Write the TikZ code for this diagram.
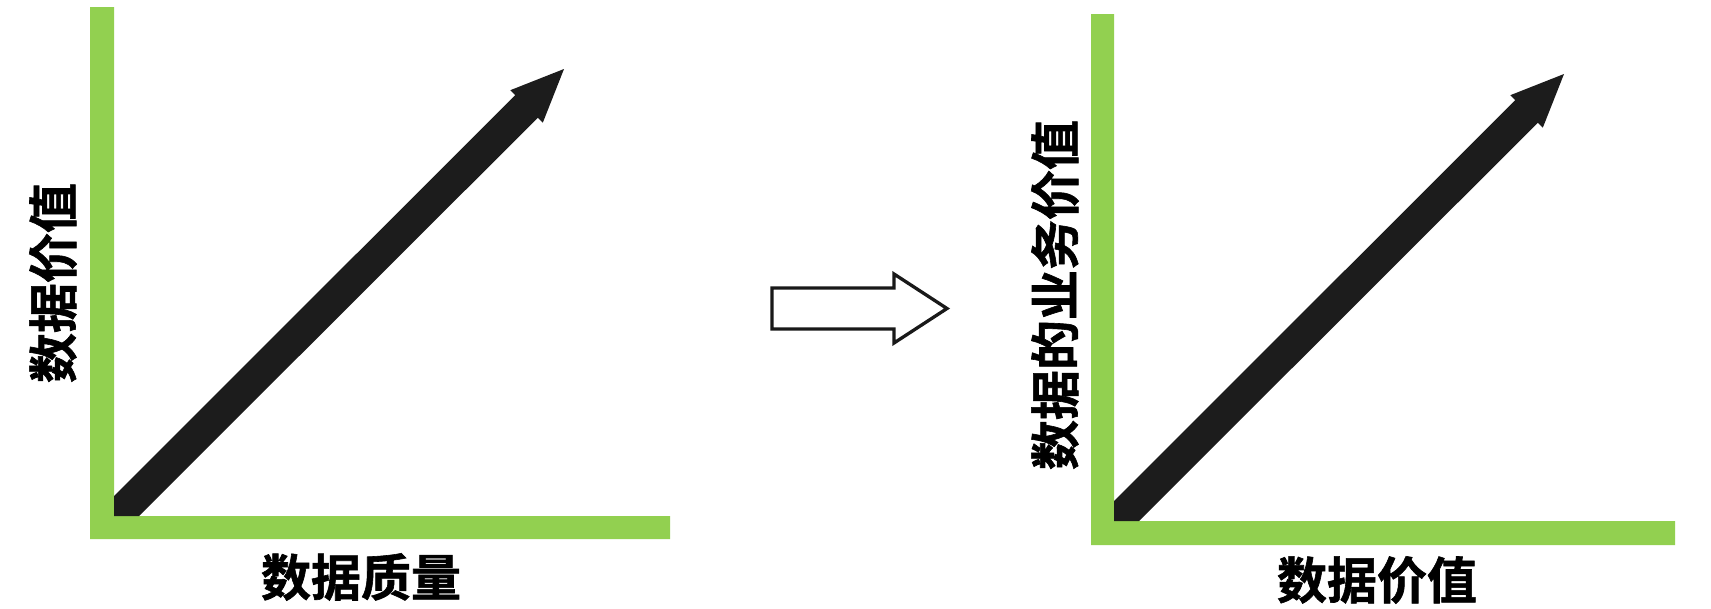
\documentclass[tikz,border=0pt]{standalone}
\usepackage{fontspec}
\newfontfamily\cjkbold[FakeBold=1.2]{Noto Sans CJK SC Bold}
\definecolor{axisgreen}{HTML}{92D050}
\definecolor{arrowblack}{HTML}{1C1C1C}
\tikzset{
  axisbar/.style={fill=axisgreen, draw=none},
  bigarrow/.style={fill=arrowblack, draw=none},
  hollowarrow/.style={draw=black!90, line width=3.3pt, fill=white, line join=miter},
  lab/.style={font=\cjkbold\fontsize{50}{50}\selectfont, inner sep=0pt, text=black}
}
\begin{document}
\begin{tikzpicture}[x=1pt, y=-1pt]
\useasboundingbox (0,0) rectangle (1711,608);
\fill[white] (0,0) rectangle (1711,608);

% left chart
\fill[axisbar] (90,7) -- (114,7) -- (114,516) -- (670,516) -- (670,539) -- (90,539) -- cycle;
\fill[bigarrow] (114,496) -- (515.2,95.2) -- (510.3,90.2) -- (564,69) -- (542.8,122.7) -- (537.8,117.8) -- (139,516) -- (114,516) -- cycle;
\node[lab, rotate=90] (ly) at (53,283) {数据价值};
\node[lab] (lx) at (361,577) {数据质量};

% middle hollow arrow
\draw[hollowarrow] (772,288) -- (894,288) -- (894,274) -- (947,308.5) -- (894,343) -- (894,329) -- (772,329) -- cycle;

% right chart
\fill[axisbar] (1091,14) -- (1114,14) -- (1114,521) -- (1675,521) -- (1675,545) -- (1091,545) -- cycle;
\begin{scope}[shift={(1000,5)}]
\fill[bigarrow] (114,496) -- (515.2,95.2) -- (510.3,90.2) -- (564,69) -- (542.8,122.7) -- (537.8,117.8) -- (139,516) -- (114,516) -- cycle;
\end{scope}
\node[lab, rotate=90] (ry) at (1055,295) {数据的业务价值};
\node[lab] (rx) at (1377,580) {数据价值};
\end{tikzpicture}
\end{document}
